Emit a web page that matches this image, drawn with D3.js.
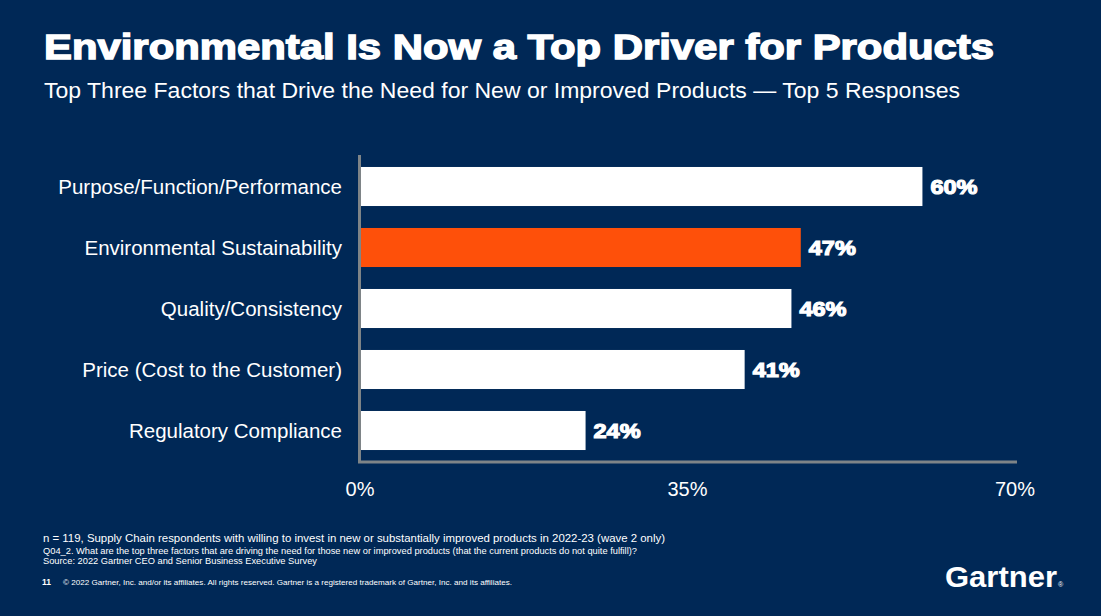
<!DOCTYPE html>
<html>
<head>
<meta charset="utf-8">
<script src="https://cdn.jsdelivr.net/npm/d3@7"></script>
<style>
  html, body { margin: 0; padding: 0; background: #002856; }
  svg { display: block; font-family: "Liberation Sans", Arial, sans-serif; }
</style>
</head>
<body>
<div id="chart"></div>
<script>
// data
var categories = ["Purpose/Function/Performance", "Environmental Sustainability", "Quality/Consistency", "Price (Cost to the Customer)", "Regulatory Compliance"];
var values = [60, 47, 46, 41, 24];
var highlight = [false, true, false, false, false];
var tickValues = [0, 35, 70];

var footLines = [
  "n = 119, Supply Chain respondents with willing to invest in new or substantially improved products in 2022-23 (wave 2 only)",
  "Q04_2. What are the top three factors that are driving the need for those new or improved products (that the current products do not quite fulfill)?",
  "Source: 2022 Gartner CEO and Senior Business Executive Survey"
];

var width = 1101, height = 616;
var navy = "#002856", orange = "#FE500A", grey = "#7E8487";

var svg = d3.select("#chart").append("svg")
  .attr("width", width)
  .attr("height", height);

svg.append("rect").attr("width", width).attr("height", height).attr("fill", navy);

// title + subtitle
svg.append("text")
  .attr("x", 44).attr("y", 59)
  .attr("fill", "#fff").attr("stroke", "#fff").attr("stroke-width", 1.4)
  .attr("font-size", 35).attr("font-weight", "bold")
  .attr("textLength", 950).attr("lengthAdjust", "spacingAndGlyphs")
  .text("Environmental Is Now a Top Driver for Products");

svg.append("text")
  .attr("x", 44).attr("y", 98)
  .attr("fill", "#fff")
  .attr("font-size", 22)
  .attr("textLength", 916).attr("lengthAdjust", "spacingAndGlyphs")
  .text("Top Three Factors that Drive the Need for New or Improved Products \u2014 Top 5 Responses");

// scales
var x = d3.scaleLinear().domain([0, 70]).range([361, 1016]);
var y = d3.scaleBand().domain(categories).range([156, 461]).paddingInner(0.36).paddingOuter(0.18);

// bars
svg.selectAll("rect.bar")
  .data(values)
  .enter().append("rect")
  .attr("class", "bar")
  .attr("x", x(0))
  .attr("y", function(d, i) { return y(categories[i]); })
  .attr("width", function(d) { return x(d) - x(0); })
  .attr("height", y.bandwidth())
  .attr("fill", function(d, i) { return highlight[i] ? orange : "#fff"; });

// value labels
svg.selectAll("text.val")
  .data(values)
  .enter().append("text")
  .attr("class", "val")
  .attr("x", function(d) { return x(d) + 8; })
  .attr("y", function(d, i) { return y(categories[i]) + y.bandwidth() / 2; })
  .attr("dy", "0.36em")
  .attr("fill", "#fff").attr("stroke", "#fff").attr("stroke-width", 1.2)
  .attr("font-size", 21).attr("font-weight", "bold")
  .attr("textLength", 47).attr("lengthAdjust", "spacingAndGlyphs")
  .text(function(d) { return d + "%"; });

// category labels
svg.selectAll("text.cat")
  .data(categories)
  .enter().append("text")
  .attr("class", "cat")
  .attr("x", 342)
  .attr("y", function(d) { return y(d) + y.bandwidth() / 2; })
  .attr("dy", "0.36em")
  .attr("text-anchor", "end")
  .attr("fill", "#fff")
  .attr("font-size", 20.5)
  .text(function(d) { return d; });

// axes lines
svg.append("line")
  .attr("x1", 359.5).attr("x2", 359.5).attr("y1", 155).attr("y2", 463)
  .attr("stroke", grey).attr("stroke-width", 3);
svg.append("line")
  .attr("x1", 358).attr("x2", 1017).attr("y1", 462).attr("y2", 462)
  .attr("stroke", grey).attr("stroke-width", 3);

// x tick labels
svg.selectAll("text.tick")
  .data(tickValues)
  .enter().append("text")
  .attr("class", "tick")
  .attr("x", function(d) { return x(d) - 1; })
  .attr("y", 496)
  .attr("text-anchor", "middle")
  .attr("fill", "#fff")
  .attr("font-size", 20)
  .text(function(d) { return d + "%"; });

// footnotes
var footY = [542, 554, 564], footSize = [11, 9.5, 9.5], footLen = [622, 594, 274];
footLines.forEach(function(t, i) {
  svg.append("text")
    .attr("x", 43).attr("y", footY[i])
    .attr("fill", "#fff")
    .attr("font-size", footSize[i])
    .attr("textLength", footLen[i]).attr("lengthAdjust", "spacingAndGlyphs")
    .text(t);
});

svg.append("text")
  .attr("x", 42).attr("y", 585)
  .attr("fill", "#fff").attr("font-size", 8.5).attr("font-weight", "bold")
  .text("11");
svg.append("text")
  .attr("x", 63).attr("y", 585)
  .attr("fill", "#fff").attr("font-size", 8)
  .attr("textLength", 449).attr("lengthAdjust", "spacingAndGlyphs")
  .text("\u00a9 2022 Gartner, Inc. and/or its affiliates. All rights reserved. Gartner is a registered trademark of Gartner, Inc. and its affiliates.");

// logo
svg.append("text")
  .attr("x", 945).attr("y", 587)
  .attr("fill", "#fff").attr("font-size", 30).attr("font-weight", "bold")
  .attr("textLength", 112).attr("lengthAdjust", "spacingAndGlyphs")
  .text("Gartner");
svg.append("text")
  .attr("x", 1058).attr("y", 587)
  .attr("fill", "#fff").attr("font-size", 7)
  .text("\u00ae");
</script>
</body>
</html>
